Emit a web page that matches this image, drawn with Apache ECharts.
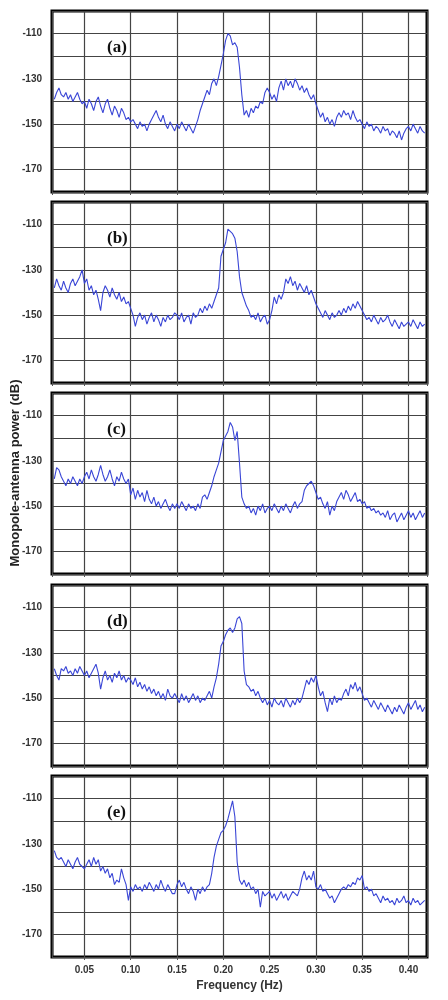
<!DOCTYPE html>
<html>
<head>
<meta charset="utf-8">
<script src="https://cdn.jsdelivr.net/npm/echarts@6/dist/echarts.min.js"></script>
<style>
  html, body { margin: 0; padding: 0; background: #fff; }
  #main { width: 448px; height: 1000px; }
</style>
</head>
<body>
<div id="main"></div>
<script>
// spectral bins: 0.0175 Hz .. 0.4175 Hz, 0.0025 Hz apart
var freqStart = 0.0175;
var freqStep = 0.0025;
var panelNames = ['(a)', '(b)', '(c)', '(d)', '(e)'];
var yLabels = [-110, -130, -150, -170];

// power (dB), one row per 0.05 Hz
var powerA = [
  -139, -136, -134, -137, -138, -136, -139, -137, -140, -138, -136, -139, -141,
  -140, -143, -139, -141, -144, -140, -138, -142, -145, -141, -139, -143, -146, -142, -144, -147, -143, -145, -148, -147,
  -149, -148, -150, -152, -149, -151, -150, -153, -150, -148, -146, -144, -147, -149, -146, -150, -152, -149, -151, -153,
  -150, -152, -149, -151, -153, -150, -152, -154, -151, -148, -144, -141, -138, -135, -137, -132, -130, -133, -129, -124,
  -119, -113, -110, -111, -115, -114, -116, -125, -137, -146, -144, -147, -143, -145, -142, -143, -140, -141, -136, -134,
  -136, -139, -137, -140, -134, -131, -135, -130, -133, -131, -134, -130, -132, -135, -133, -136, -134, -137, -139, -137,
  -141, -144, -147, -145, -149, -147, -150, -148, -151, -147, -145, -147, -144, -146, -145, -148, -144, -147, -149, -148,
  -150, -152, -149, -151, -150, -153, -151, -152, -154, -151, -153, -152, -155, -153, -154, -156, -153, -157, -154, -152,
  -151, -153, -150, -152, -154, -151, -153, -154
];
var powerB = [
  -138, -134, -137, -139, -135, -138, -140, -136, -134, -137, -135, -133, -130,
  -136, -134, -139, -137, -141, -139, -143, -148, -140, -137, -139, -142, -138, -141, -143, -140, -144, -142, -145, -144,
  -147, -150, -155, -151, -149, -152, -150, -154, -151, -149, -153, -150, -152, -155, -151, -153, -150, -152, -151, -149,
  -150, -152, -149, -153, -151, -150, -154, -149, -151, -150, -147, -149, -146, -148, -145, -147, -144, -141, -138, -124,
  -121, -118, -112, -113, -114, -116, -122, -133, -140, -143, -146, -148, -151, -150, -152, -149, -153, -151, -150, -154,
  -152, -148, -142, -145, -141, -143, -140, -134, -136, -133, -137, -135, -139, -136, -138, -140, -137, -141, -139, -142,
  -145, -147, -149, -151, -148, -150, -152, -149, -151, -150, -148, -150, -147, -149, -146, -148, -145, -147, -144, -146,
  -148, -150, -152, -151, -153, -150, -152, -154, -151, -153, -152, -150, -153, -155, -152, -154, -156, -153, -155, -154,
  -153, -155, -152, -154, -156, -153, -155, -154
];
var powerC = [
  -138, -133, -134, -137, -139, -141, -138, -140, -137, -139, -141, -138, -140,
  -137, -135, -138, -134, -137, -139, -136, -132, -136, -139, -137, -134, -138, -141, -137, -139, -135, -138, -140, -138,
  -145, -142, -147, -143, -146, -144, -148, -143, -147, -149, -146, -150, -148, -151, -149, -147, -150, -152, -149, -151,
  -149, -151, -148, -150, -152, -149, -151, -150, -152, -149, -151, -146, -145, -147, -144, -141, -137, -134, -131, -126,
  -121, -119, -117, -113, -115, -121, -117, -131, -146, -149, -151, -150, -153, -151, -154, -150, -152, -149, -153, -151,
  -150, -152, -149, -151, -153, -150, -152, -149, -151, -153, -150, -148, -151, -149, -148, -143, -141, -140, -139, -141,
  -144, -147, -146, -149, -151, -148, -154, -150, -152, -148, -146, -144, -147, -143, -145, -148, -146, -144, -148, -147,
  -149, -148, -151, -150, -152, -151, -153, -152, -154, -153, -155, -152, -156, -154, -153, -157, -155, -153, -156, -154,
  -152, -155, -153, -156, -154, -152, -155, -153
];
var powerD = [
  -137, -140, -142, -137, -138, -136, -139, -138, -140, -137, -139, -136, -138,
  -140, -138, -141, -139, -137, -135, -139, -146, -141, -138, -142, -140, -143, -139, -141, -138, -142, -140, -143, -141,
  -142, -144, -141, -145, -143, -146, -144, -147, -145, -148, -146, -149, -147, -150, -148, -151, -146, -149, -150, -148,
  -150, -152, -148, -151, -149, -152, -150, -148, -151, -149, -152, -150, -151, -149, -147, -150, -145, -141, -135, -127,
  -125, -122, -120, -119, -121, -119, -115, -114, -117, -138, -144, -145, -147, -146, -149, -147, -150, -152, -150, -153,
  -151, -154, -150, -152, -153, -151, -154, -150, -152, -154, -151, -153, -150, -152, -150, -146, -142, -144, -141, -143,
  -140, -145, -149, -147, -152, -156, -150, -153, -149, -152, -150, -151, -148, -146, -149, -144, -146, -143, -147, -145,
  -148, -151, -150, -152, -154, -151, -153, -155, -152, -154, -156, -153, -155, -157, -154, -156, -153, -155, -157, -154,
  -152, -155, -153, -151, -155, -153, -156, -154
];
var powerE = [
  -133, -136, -137, -136, -138, -140, -137, -139, -141, -138, -136, -139, -140,
  -141, -139, -137, -140, -136, -139, -137, -142, -140, -143, -141, -145, -143, -148, -146, -147, -141, -145, -148, -155,
  -149, -151, -148, -150, -149, -151, -148, -150, -147, -149, -151, -148, -150, -146, -149, -151, -148, -150, -152, -152,
  -148, -146, -149, -147, -150, -152, -149, -151, -155, -150, -152, -149, -151, -149, -148, -143, -136, -131, -128, -125,
  -124, -122, -119, -115, -111, -118, -138, -146, -148, -146, -149, -147, -150, -149, -152, -150, -158, -151, -153, -152,
  -151, -154, -152, -155, -153, -151, -154, -152, -155, -153, -151, -152, -153, -150, -145, -142, -146, -144, -146, -142,
  -149, -150, -148, -151, -150, -152, -154, -153, -156, -154, -152, -150, -149, -150, -148, -149, -147, -148, -145, -146,
  -144, -150, -149, -151, -150, -153, -152, -154, -156, -153, -155, -154, -156, -155, -157, -154, -156, -155, -153, -156,
  -155, -157, -154, -156, -155, -157, -156, -155
];
var panels = [powerA, powerB, powerC, powerD, powerE];

var tops = [11, 202, 393, 585, 776];
var chart = echarts.init(document.getElementById('main'));

var grids = [], xAxes = [], yAxes = [], series = [], graphics = [];
panels.forEach(function (vals, k) {
  var last = k === panels.length - 1;
  grids.push({
    left: 52, right: 21, top: tops[k], height: 181,
    show: true, backgroundColor: '#fff',
    borderColor: '#000', borderWidth: 3
  });
  xAxes.push({
    type: 'value', gridIndex: k, min: 0.015, max: 0.42, splitNumber: 8,
    axisLine: { show: false },
    axisTick: { show: true, length: 3, lineStyle: { color: '#555' } },
    splitLine: { show: true, lineStyle: { color: '#444', width: 1.2 } },
    axisLabel: {
      show: last, showMinLabel: false, showMaxLabel: false, margin: 8,
      color: '#333', fontSize: 10, fontWeight: 'bold', fontFamily: 'Liberation Sans',
      formatter: function (v) { return v.toFixed(2); }
    },
    name: last ? 'Frequency (Hz)' : '', nameLocation: 'middle', nameGap: 23,
    nameTextStyle: { color: '#333', fontSize: 12, fontWeight: 'bold', fontFamily: 'Liberation Sans' }
  });
  yAxes.push({
    type: 'value', gridIndex: k, min: -180, max: -100, interval: 10,
    axisLine: { show: false }, axisTick: { show: false },
    splitLine: { show: true, lineStyle: { color: '#444', width: 1.2 } },
    axisLabel: {
      margin: 10, color: '#333', fontSize: 10, fontWeight: 'bold', fontFamily: 'Liberation Sans',
      formatter: function (v) { return yLabels.indexOf(v) >= 0 ? String(v) : ''; }
    }
  });
  series.push({
    type: 'line', xAxisIndex: k, yAxisIndex: k, symbol: 'none',
    lineStyle: { color: '#3a46d6', width: 1.1 },
    data: vals.map(function (p, i) { return [freqStart + i * freqStep, p]; })
  });
  graphics.push({
    type: 'text', left: 107, top: tops[k] + 28,
    style: { text: panelNames[k], font: 'bold 17px "Liberation Serif"', fill: '#111' }
  });
});

graphics.push({
  type: 'text', x: 15, y: 473, rotation: Math.PI / 2,
  style: {
    text: 'Monopole-antenna power (dB)', font: 'bold 13px "Liberation Sans"',
    fill: '#222', textAlign: 'center', textVerticalAlign: 'middle'
  }
});

var option = {
  animation: false,
  grid: grids,
  xAxis: xAxes,
  yAxis: yAxes,
  series: series,
  graphic: graphics
};
chart.setOption(option);
</script>
</body>
</html>
